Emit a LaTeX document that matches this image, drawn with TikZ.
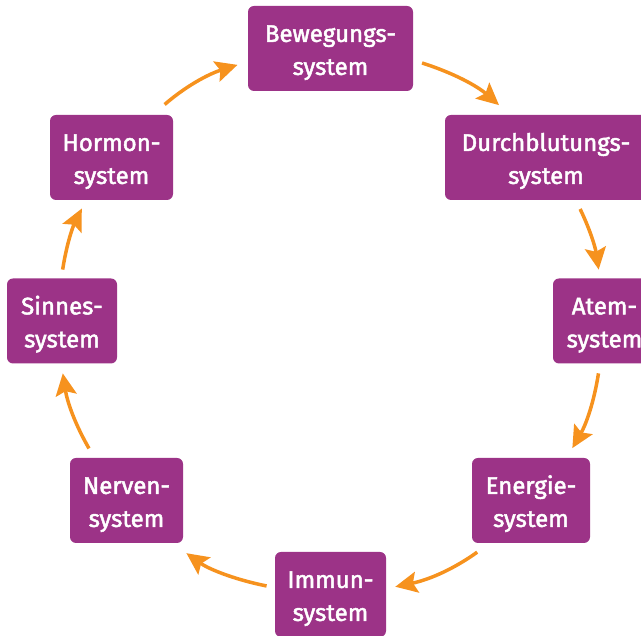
\documentclass[tikz,border=0pt]{standalone}
\usepackage{fontspec}
\setmainfont{Fira Sans}[FakeBold=2]
\usetikzlibrary{arrows.meta}
\definecolor{boxpurple}{RGB}{156,51,135}
\definecolor{arrorange}{RGB}{246,146,30}
\newcommand{\topstrut}{\rule{0pt}{25pt}}
\begin{document}
\begin{tikzpicture}[x=1pt,y=1pt,
  sysbox/.style={fill=boxpurple, rounded corners=6pt, text=white, align=center,
    minimum height=85pt, inner sep=0pt, outer sep=0pt,
    font=\fontsize{24}{33}\selectfont},
  cyc/.style={draw=arrorange, line width=3.5pt,
    -{Stealth[length=22pt,width=21pt,inset=4pt]}}]
\useasboundingbox (0,0) rectangle (641,636);
\clip (0,0) rectangle (641,636);
\node[sysbox, minimum width=165pt] (bew)   at (330.5,587.5) {\topstrut Bewegungs-\\system};
\node[sysbox, minimum width=202pt] (dur)   at (546,478.5)   {\topstrut Durchblutungs-\\system};
\node[sysbox, minimum width=103pt] (atem)  at (604.5,315)   {\topstrut Atem-\\system};
\node[sysbox, minimum width=118pt] (ener)  at (531,135.5)   {\topstrut Energie-\\system};
\node[sysbox, minimum width=111pt] (immun) at (330.5,41.5)  {\topstrut Immun-\\system};
\node[sysbox, minimum width=113pt] (nerv)  at (126.5,135.5) {\topstrut Nerven-\\system};
\node[sysbox, minimum width=110pt] (sinn)  at (62,315)      {\topstrut Sinnes-\\system};
\node[sysbox, minimum width=123pt] (horm)  at (111.5,478.5) {\topstrut Hormon-\\system};
\draw[cyc, shorten <=9.5pt, shorten >=15pt] (bew.-8.5) to[bend left=11.7] (dur.130.6);
\draw[cyc, shorten <=10pt, shorten >=9pt] (dur.-55.5) to[bend left=8.6] (atem.96);
\draw[cyc, shorten <=10pt, shorten >=11.4pt] (atem.-96) to[bend left=10.5] (ener.50.1);
\draw[cyc, shorten <=15.7pt, shorten >=9.5pt] (ener.-134.4) to[bend left=12] (immun.6.4);
\draw[cyc, shorten <=8.6pt, shorten >=17.6pt] (immun.173.6) to[bend left=12] (nerv.-43.3);
\draw[cyc, shorten <=11pt, shorten >=10pt] (nerv.127.1) to[bend left=10.5] (sinn.-91.5);
\draw[cyc, shorten <=9pt, shorten >=9.5pt] (sinn.91.5) to[bend left=8.6] (horm.-121.2);
\draw[cyc, shorten <=16pt, shorten >=11pt] (horm.46.8) to[bend left=11.7] (bew.-171.5);
\end{tikzpicture}
\end{document}
